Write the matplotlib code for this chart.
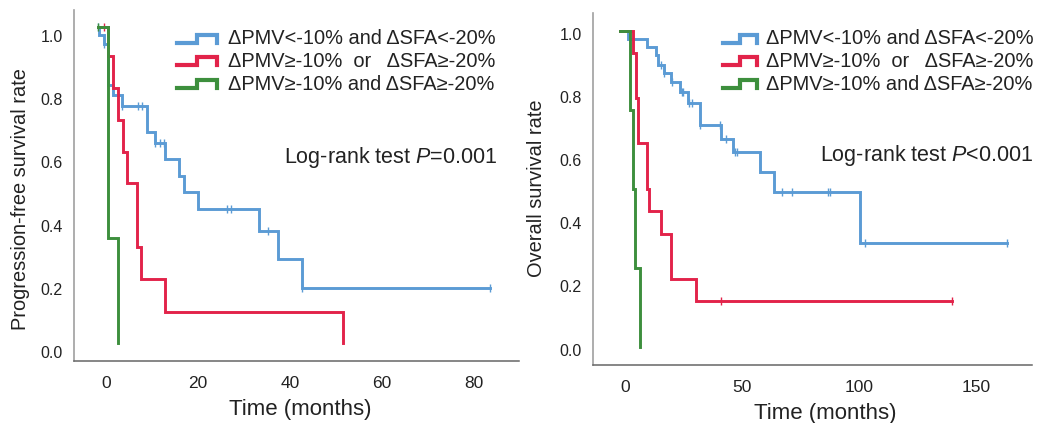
import numpy as np
import matplotlib
matplotlib.use("Agg")
import matplotlib.pyplot as plt
from matplotlib.lines import Line2D
from matplotlib.transforms import ScaledTranslation

plt.rcParams['font.family'] = ['Liberation Sans', 'DejaVu Sans']
plt.rcParams['mathtext.fontset'] = 'custom'
plt.rcParams['mathtext.rm'] = 'Liberation Sans'
plt.rcParams['mathtext.it'] = 'Liberation Sans:italic'

W, H = 1038, 423

# Progression-free survival (months, survival rate at each step)
pfs_blue_t = [0, 0.3, 1.3, 2.2, 3.3, 5.3, 10.6, 12.5, 14.6, 17.7, 18.8, 21.8, 35.0, 39.1, 44.3, 85.2]
pfs_blue_s = [1.0, 0.975, 0.945, 0.818, 0.784, 0.749, 0.669, 0.632, 0.581, 0.528, 0.479, 0.423, 0.354, 0.266, 0.174, 0.174]
pfs_blue_cens = [0, 1.3, 2.2, 5.3, 8.6, 9.5, 12.5, 13.5, 14.3, 28.0, 28.9, 37.0, 44.3, 85.2]

pfs_red_t = [0, 2.2, 3.3, 4.4, 5.5, 6.4, 8.4, 9.35, 14.6, 53.3]
pfs_red_s = [1.0, 0.908, 0.807, 0.706, 0.604, 0.506, 0.304, 0.203, 0.098, 0.0]
pfs_red_cens = [1.3, 2.2]

pfs_green_t = [0, 2.2, 4.4]
pfs_green_s = [1.0, 0.333, 0.0]
pfs_green_cens = [0]

# Overall survival
os_blue_t = [0, 3.4, 11.6, 15.5, 16.6, 18.8, 22.0, 25.9, 29.4, 34.3, 43.6, 48.6, 60.1, 66.1, 103.0, 166.0]
os_blue_s = [1.0, 0.975, 0.948, 0.922, 0.891, 0.867, 0.838, 0.806, 0.771, 0.702, 0.656, 0.617, 0.554, 0.491, 0.327, 0.327]
os_blue_cens = [17.7, 19.2, 22.5, 26.5, 27.3, 29.7, 31.0, 34.6, 42.9, 45.5, 49.4, 50.2,
                69.7, 74.0, 89.3, 90.0, 105.0, 166.0]

os_red_t = [0, 5.7, 6.9, 7.7, 11.9, 12.7, 17.7, 21.9, 32.7, 142.4]
os_red_s = [1.0, 0.929, 0.786, 0.643, 0.5, 0.429, 0.357, 0.214, 0.143, 0.143]
os_red_cens = [43.6, 142.4]

os_green_t = [0, 4.4, 5.6, 6.6, 8.7]
os_green_s = [1.0, 0.75, 0.5, 0.25, 0.0]
os_green_cens = []

labels = ['\u0394PMV<-10% and \u0394SFA<-20%',
          '\u0394PMV\u2265-10%  or   \u0394SFA\u2265-20%',
          '\u0394PMV\u2265-10% and \u0394SFA\u2265-20%']
blue, red, green = '#5b9bd5', '#e2234a', '#3d8f3d'
colors = [blue, red, green]
txt = '#222222'

fig = plt.figure(figsize=(W / 100, H / 100), dpi=100)


def km(ax, t, s, cens, color):
    t = np.asarray(t)
    s = np.asarray(s)
    ax.step(t, s, where='post', color=color, lw=2.1, solid_joinstyle='miter')
    if len(cens):
        c = np.asarray(cens)
        idx = np.searchsorted(t, c, side='right') - 1
        ax.plot(c, s[idx], ls='none', marker='|', ms=6, mew=1.0, color=color)


def setup(ax, xlim, ylim, xticks, dx, dy):
    ax.set_xlim(xlim)
    ax.set_ylim(ylim)
    ax.set_xticks(xticks)
    ax.set_yticks([0, 0.2, 0.4, 0.6, 0.8, 1.0])
    ax.set_yticklabels(['0.0', '0.2', '0.4', '0.6', '0.8', '1.0'])
    ax.spines['top'].set_visible(False)
    ax.spines['right'].set_visible(False)
    ax.spines['left'].set_color('#a0a0a0')
    ax.spines['bottom'].set_color('#666666')
    ax.spines['left'].set_linewidth(1.2)
    ax.spines['bottom'].set_linewidth(1.1)
    ax.tick_params(axis='x', length=0, pad=11, labelsize=12.5, labelcolor=txt)
    ax.tick_params(axis='y', length=0, pad=8, labelsize=11.5, labelcolor=txt)
    for lab in ax.get_xticklabels():
        lab.set_transform(lab.get_transform() + ScaledTranslation(dx / 100, 0, fig.dpi_scale_trans))
    for lab in ax.get_yticklabels():
        lab.set_transform(lab.get_transform() + ScaledTranslation(0, -dy / 100, fig.dpi_scale_trans))


def legend(x0, xm, x1, xt):
    for yt, c, lab in zip([35, 57.5, 80], colors, labels):
        xs = [x0, xm, xm, x1, x1]
        ys = [yt + 8, yt + 8, yt, yt, yt + 8]
        fig.add_artist(Line2D([x / W for x in xs], [1 - y / H for y in ys],
                              transform=fig.transFigure, color=c, lw=3,
                              solid_joinstyle='miter'))
        fig.text(xt / W, 1 - (yt + 4) / H, lab, ha='left', va='center',
                 fontsize=14.4, color=txt)


# left panel: PFS
ax1 = fig.add_axes([74 / W, 1 - 361 / H, 445 / W, 351 / H])
km(ax1, pfs_blue_t, pfs_blue_s, pfs_blue_cens, blue)
km(ax1, pfs_red_t, pfs_red_s, pfs_red_cens, red)
km(ax1, pfs_green_t, pfs_green_s, pfs_green_cens, green)
setup(ax1, (-5.2, 91.5), (-0.057, 1.054), [0, 20, 40, 60, 80], 8, 9)
ax1.set_xlabel('Time (months)', fontsize=16, color=txt)
ax1.xaxis.label.set_va('center')
ax1.xaxis.set_label_coords((300 - 74) / 445, -(409 - 361) / 351)
ax1.set_ylabel('Progression-free survival rate', fontsize=14.4, color=txt)
ax1.yaxis.label.set_va('center')
ax1.yaxis.set_label_coords((21 - 74) / 445, (361 - 199) / 351)
legend(177, 197, 217, 228)
fig.text(497 / W, 1 - 157 / H, r'Log-rank test $\mathit{P}$=0.001', ha='right',
         va='center', fontsize=15.5, color=txt)

# right panel: OS
ax2 = fig.add_axes([593 / W, 1 - 365 / H, 439 / W, 352 / H])
km(ax2, os_blue_t, os_blue_s, os_blue_cens, blue)
km(ax2, os_red_t, os_red_s, os_red_cens, red)
km(ax2, os_green_t, os_green_s, os_green_cens, green)
setup(ax2, (-11.4, 176.6), (-0.058, 1.056), [0, 50, 100, 150], 6, 3)
ax2.set_xlabel('Time (months)', fontsize=16, color=txt)
ax2.xaxis.label.set_va('center')
ax2.xaxis.set_label_coords((825 - 593) / 439, -(413 - 365) / 352)
ax2.set_ylabel('Overall survival rate', fontsize=14.4, color=txt)
ax2.yaxis.label.set_va('center')
ax2.yaxis.set_label_coords((537 - 593) / 439, (365 - 188) / 352)
legend(723, 740, 757, 766)
fig.text(1033 / W, 1 - 156 / H, r'Log-rank test $\mathit{P}$<0.001', ha='right',
         va='center', fontsize=15.5, color=txt)

fig.savefig('out.png', dpi=100)
